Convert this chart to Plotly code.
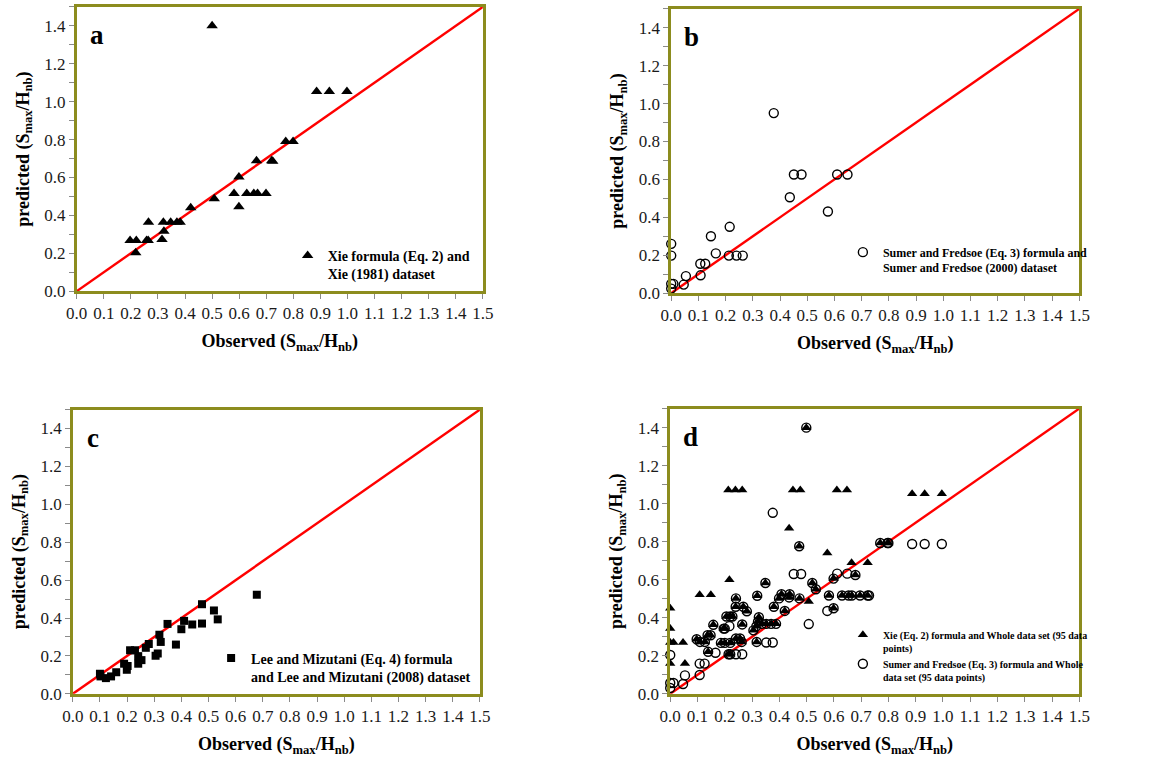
import plotly.graph_objects as go

# ---------------- data ----------------
# Panel a: Xie formula (Eq. 2) and Xie (1981) dataset
xie_obs = [0.50, 0.886, 0.933, 0.998, 0.772, 0.799, 0.664, 0.720, 0.724, 0.599,
           0.581, 0.628, 0.654, 0.668, 0.699, 0.599, 0.508, 0.421, 0.265, 0.320,
           0.347, 0.370, 0.382, 0.322, 0.315, 0.197, 0.220, 0.258, 0.264, 0.218]
xie_pred = [1.40, 1.053, 1.053, 1.053, 0.790, 0.790, 0.688, 0.688, 0.685, 0.602,
            0.516, 0.516, 0.516, 0.516, 0.516, 0.446, 0.488, 0.440, 0.363, 0.363,
            0.363, 0.363, 0.363, 0.316, 0.273, 0.267, 0.267, 0.267, 0.267, 0.203]

# Panel b: Sumer and Fredsoe (Eq. 3) formula and Sumer and Fredsoe (2000) dataset
sumer_obs = [0.377, 0.451, 0.479, 0.610, 0.648, 0.436, 0.576, 0.215, 0.146, 0.164,
             0.000, 0.000, 0.212, 0.240, 0.263, 0.107, 0.125, 0.054, 0.108, 0.046,
             0.000, 0.008, 0.000]
sumer_pred = [0.950, 0.626, 0.626, 0.626, 0.626, 0.506, 0.431, 0.350, 0.300, 0.210,
              0.260, 0.198, 0.198, 0.198, 0.198, 0.155, 0.155, 0.090, 0.094, 0.045,
              0.049, 0.049, 0.024]

# Panel c: Lee and Mizutani (Eq. 4) formula and Lee and Mizutani (2008) dataset
lee_obs = [0.678, 0.476, 0.520, 0.534, 0.476, 0.440, 0.410, 0.400, 0.349, 0.380,
           0.319, 0.324, 0.313, 0.305, 0.280, 0.269, 0.211, 0.229, 0.241, 0.253,
           0.241, 0.189, 0.202, 0.199, 0.160, 0.141, 0.122, 0.100, 0.102]
lee_pred = [0.523, 0.473, 0.440, 0.393, 0.371, 0.366, 0.385, 0.341, 0.369, 0.260,
            0.312, 0.274, 0.213, 0.201, 0.263, 0.243, 0.230, 0.230, 0.199, 0.178,
            0.159, 0.159, 0.147, 0.127, 0.114, 0.092, 0.083, 0.106, 0.092]

# Panel d: whole data set, predictions shared by both formulas
both_obs = [0.499, 0.473, 0.770, 0.797, 0.679, 0.599, 0.521, 0.534, 0.582, 0.630,
            0.654, 0.666, 0.696, 0.724, 0.474, 0.599, 0.420, 0.438, 0.436, 0.408,
            0.399, 0.380, 0.349, 0.319, 0.325, 0.322, 0.352, 0.370, 0.388, 0.336,
            0.317, 0.305, 0.316, 0.241, 0.240, 0.268, 0.281, 0.264, 0.241, 0.256,
            0.262, 0.214, 0.220, 0.206, 0.220, 0.228, 0.196, 0.200, 0.186, 0.200,
            0.220, 0.158, 0.137, 0.148, 0.139, 0.097, 0.109, 0.127, 0.800]
both_pred = [1.400, 0.776, 0.793, 0.793, 0.625, 0.606, 0.583, 0.550, 0.517, 0.517,
             0.517, 0.517, 0.517, 0.517, 0.502, 0.450, 0.436, 0.524, 0.507, 0.524,
             0.502, 0.458, 0.583, 0.516, 0.403, 0.380, 0.368, 0.368, 0.368, 0.368,
             0.273, 0.334, 0.356, 0.502, 0.458, 0.458, 0.434, 0.365, 0.291, 0.291,
             0.273, 0.208, 0.208, 0.407, 0.407, 0.407, 0.343, 0.343, 0.268, 0.268,
             0.268, 0.363, 0.308, 0.308, 0.221, 0.287, 0.273, 0.273, 0.793]

# Panel d: points where only the Xie formula marker appears
xie_only_obs = [0.213, 0.239, 0.264, 0.450, 0.477, 0.611, 0.648, 0.887, 0.933, 0.996,
                0.436, 0.576, 0.665, 0.724, 0.508, 0.108, 0.149, 0.217, 0.054, 0.047,
                0.000, 0.000, 0.000, 0.012, 0.000]
xie_only_pred = [1.072, 1.072, 1.072, 1.072, 1.072, 1.072, 1.072, 1.052, 1.052, 1.052,
                 0.871, 0.741, 0.689, 0.689, 0.486, 0.521, 0.521, 0.600, 0.159, 0.270,
                 0.450, 0.343, 0.270, 0.270, 0.159]

# Panel d: points where only the Sumer formula marker appears
sumer_only_obs = [0.376, 0.887, 0.933, 0.996, 0.612, 0.649, 0.453, 0.480, 0.508, 0.576,
                  0.352, 0.376, 0.241, 0.264, 0.217, 0.166, 0.108, 0.126, 0.108, 0.054,
                  0.047, 0.000, 0.000, 0.012, 0.000, 0.729]
sumer_only_pred = [0.952, 0.788, 0.788, 0.788, 0.632, 0.632, 0.630, 0.630, 0.367, 0.436,
                   0.270, 0.270, 0.208, 0.208, 0.356, 0.216, 0.159, 0.159, 0.099, 0.097,
                   0.052, 0.204, 0.057, 0.057, 0.031, 0.517]

whole_xie_obs = both_obs + xie_only_obs
whole_xie_pred = both_pred + xie_only_pred
whole_sumer_obs = both_obs + sumer_only_obs
whole_sumer_pred = both_pred + sumer_only_pred

line_xy = [0.0, 1.5]
y_ticks = [0.0, 0.2, 0.4, 0.6, 0.8, 1.0, 1.2, 1.4]
y_minor = [0.1, 0.3, 0.5, 0.7, 0.9, 1.1, 1.3, 1.5]
panel_labels = ["a", "b", "c", "d"]

# ---------------- styling ----------------
SERIF = "'Liberation Serif', 'Times New Roman', Times, serif"
OLIVE = "#8C8C1E"
TICKC = "#8A8A8A"
W, H = 1157, 768

fig = go.Figure()

def add_line(ax):
    fig.add_trace(go.Scatter(x=line_xy, y=line_xy, mode="lines",
                             line=dict(color="#FF0000", width=2.4),
                             xaxis="x" + ax, yaxis="y" + ax, showlegend=False,
                             hoverinfo="skip"))

# panel a
add_line("")
fig.add_trace(go.Scatter(x=xie_obs, y=xie_pred, mode="markers", cliponaxis=False,
                         marker=dict(symbol="triangle-up", size=10, color="black"),
                         name="<b>Xie formula (Eq. 2) and<br>Xie (1981) dataset</b>",
                         xaxis="x", yaxis="y", legend="legend"))
# panel b
add_line("2")
fig.add_trace(go.Scatter(x=sumer_obs, y=sumer_pred, mode="markers", cliponaxis=False,
                         marker=dict(symbol="circle-open", size=9, color="black",
                                     line=dict(width=1.4, color="black")),
                         name="<b>Sumer and Fredsoe (Eq. 3) formula and<br>Sumer and Fredsoe (2000) dataset</b>",
                         xaxis="x2", yaxis="y2", legend="legend2"))
# panel c
add_line("3")
fig.add_trace(go.Scatter(x=lee_obs, y=lee_pred, mode="markers", cliponaxis=False,
                         marker=dict(symbol="square", size=8, color="black"),
                         name="<b>Lee and Mizutani (Eq. 4) formula<br>and Lee and Mizutani (2008) dataset</b>",
                         xaxis="x3", yaxis="y3", legend="legend3"))
# panel d
add_line("4")
fig.add_trace(go.Scatter(x=whole_xie_obs, y=whole_xie_pred, mode="markers", cliponaxis=False,
                         marker=dict(symbol="triangle-up", size=9, color="black"),
                         name="<b>Xie (Eq. 2) formula and Whole data set (95 data<br>points)</b>",
                         xaxis="x4", yaxis="y4", legend="legend4"))
fig.add_trace(go.Scatter(x=whole_sumer_obs, y=whole_sumer_pred, mode="markers", cliponaxis=False,
                         marker=dict(symbol="circle-open", size=9, color="black",
                                     line=dict(width=1.4, color="black")),
                         name="<b>Sumer and Fredsoe (Eq. 3) formula and Whole<br>data set (95 data points)</b>",
                         xaxis="x4", yaxis="y4", legend="legend4"))

# pixel boxes (left, right, top, bottom)
boxes = {
    "": (67, 481, 7, 295),
    "2": (673, 1089, 9, 297),
    "3": (63, 478, 415, 703),
    "4": (672, 1089, 414, 703),
}

xtitle = "<b>Observed (S<sub>max</sub>/H<sub>nb</sub>)</b>"
ytitle = "<b>predicted (S<sub>max</sub>/H<sub>nb</sub>)</b>"

layout = dict(width=W, height=H, margin=dict(l=0, r=0, t=0, b=0),
              paper_bgcolor="white", plot_bgcolor="white",
              font=dict(family=SERIF, color="black"), showlegend=True)

for ax, (l, r, t, b) in boxes.items():
    xd = [l / W, r / W]
    yd = [1 - b / H, 1 - t / H]
    layout["xaxis" + ax] = dict(
        domain=xd, anchor="y" + ax, range=[0, 1.5], tick0=0, dtick=0.1, tickformat=".1f",
        ticks="outside", ticklen=5, tickwidth=1, tickcolor=TICKC,
        showline=True, linecolor=OLIVE, linewidth=2.5, mirror=True,
        showgrid=False, zeroline=False,
        tickfont=dict(family=SERIF, size=17, color="#1a1a1a"),
        title=dict(text=xtitle, font=dict(family=SERIF, size=18, color="black"), standoff=13))
    layout["yaxis" + ax] = dict(
        domain=yd, anchor="x" + ax, range=[0, 1.5], tickvals=y_ticks,
        ticktext=[f"{v:.1f}" for v in y_ticks],
        ticks="outside", ticklen=5, tickwidth=1, tickcolor=TICKC,
        minor=dict(tickvals=y_minor, ticks="outside", ticklen=5, tickwidth=1, tickcolor=TICKC),
        showline=True, linecolor=OLIVE, linewidth=2.5, mirror=True,
        showgrid=False, zeroline=False,
        tickfont=dict(family=SERIF, size=17, color="#1a1a1a"),
        title=dict(text=ytitle, font=dict(family=SERIF, size=18, color="black"), standoff=11))

def leg(px, py, size):
    return dict(x=px / W, y=1 - py / H, xanchor="left", yanchor="top",
                bgcolor="rgba(0,0,0,0)", borderwidth=0, valign="top",
                font=dict(family=SERIF, size=size, color="black"), tracegroupgap=4)

layout["legend"] = leg(282, 243, 14)
layout["legend2"] = leg(848, 241, 12)
layout["legend3"] = leg(204, 651, 14)
layout["legend4"] = leg(848, 630, 10)

annotations = []
for lab, ax in zip(panel_labels, ["", "2", "3", "4"]):
    annotations.append(dict(text=f"<b>{lab}</b>", x=0.075, y=1.35, xref="x" + ax, yref="y" + ax,
                            showarrow=False, font=dict(family=SERIF, size=27, color="black")))
layout["annotations"] = annotations

fig.update_layout(**layout)
fig.write_html("out.html", config={"displayModeBar": False},
               post_script="document.body.style.margin='0';")
